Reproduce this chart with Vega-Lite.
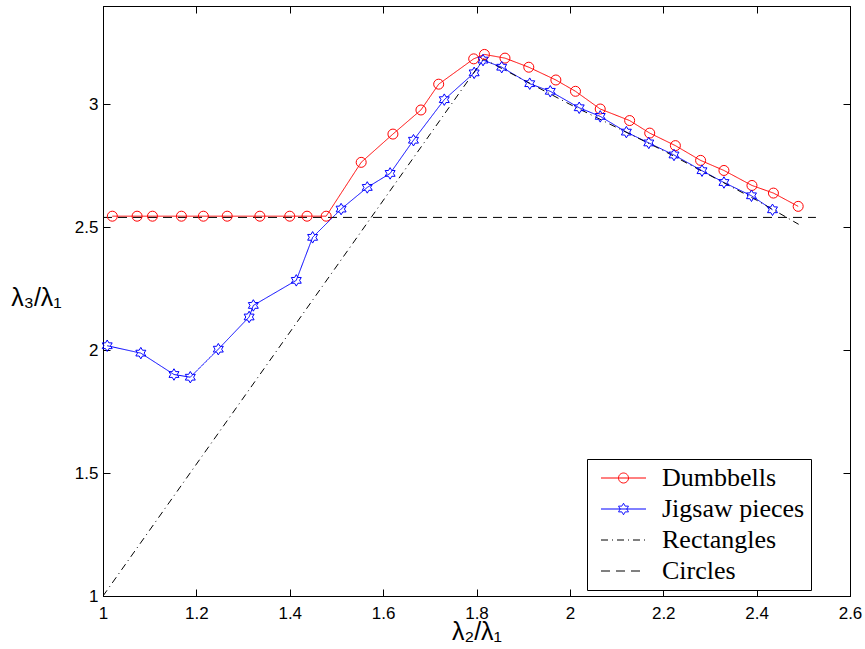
{
  "$schema": "https://vega.github.io/schema/vega-lite/v6.json",
  "autosize": "none",
  "width": 747,
  "height": 590,
  "padding": {"left": 103, "top": 6, "right": 15, "bottom": 53},
  "background": "white",
  "config": {
    "view": {"stroke": "black", "strokeWidth": 1},
    "axis": {
      "grid": false, "domainColor": "black", "tickColor": "black", "labelColor": "black",
      "labelFont": "Liberation Sans", "labelFontSize": 17, "titleFont": "Liberation Sans",
      "titleFontSize": 25, "titleFontWeight": "normal", "titleColor": "black",
      "tickSize": -7, "labelFlush": false, "labelOverlap": false, "labelBound": false
    }
  },
  "datasets": {
    "d": [
      {"series": "Dumbbells", "x": 1.02, "y": 2.545},
      {"series": "Dumbbells", "x": 1.073, "y": 2.545},
      {"series": "Dumbbells", "x": 1.106, "y": 2.545},
      {"series": "Dumbbells", "x": 1.168, "y": 2.545},
      {"series": "Dumbbells", "x": 1.215, "y": 2.545},
      {"series": "Dumbbells", "x": 1.266, "y": 2.545},
      {"series": "Dumbbells", "x": 1.336, "y": 2.545},
      {"series": "Dumbbells", "x": 1.4, "y": 2.545},
      {"series": "Dumbbells", "x": 1.437, "y": 2.545},
      {"series": "Dumbbells", "x": 1.478, "y": 2.545},
      {"series": "Dumbbells", "x": 1.553, "y": 2.764},
      {"series": "Dumbbells", "x": 1.621, "y": 2.879},
      {"series": "Dumbbells", "x": 1.681, "y": 2.977},
      {"series": "Dumbbells", "x": 1.719, "y": 3.082},
      {"series": "Dumbbells", "x": 1.794, "y": 3.185},
      {"series": "Dumbbells", "x": 1.817, "y": 3.203},
      {"series": "Dumbbells", "x": 1.861, "y": 3.188},
      {"series": "Dumbbells", "x": 1.912, "y": 3.151},
      {"series": "Dumbbells", "x": 1.97, "y": 3.099},
      {"series": "Dumbbells", "x": 2.012, "y": 3.053},
      {"series": "Dumbbells", "x": 2.065, "y": 2.981},
      {"series": "Dumbbells", "x": 2.128, "y": 2.934},
      {"series": "Dumbbells", "x": 2.171, "y": 2.883},
      {"series": "Dumbbells", "x": 2.226, "y": 2.832},
      {"series": "Dumbbells", "x": 2.28, "y": 2.772},
      {"series": "Dumbbells", "x": 2.33, "y": 2.731},
      {"series": "Dumbbells", "x": 2.39, "y": 2.67},
      {"series": "Dumbbells", "x": 2.436, "y": 2.639},
      {"series": "Dumbbells", "x": 2.489, "y": 2.585},
      {"series": "Jigsaw pieces", "x": 1.009, "y": 2.018},
      {"series": "Jigsaw pieces", "x": 1.081, "y": 1.988},
      {"series": "Jigsaw pieces", "x": 1.152, "y": 1.901},
      {"series": "Jigsaw pieces", "x": 1.187, "y": 1.89},
      {"series": "Jigsaw pieces", "x": 1.247, "y": 2.004},
      {"series": "Jigsaw pieces", "x": 1.313, "y": 2.135},
      {"series": "Jigsaw pieces", "x": 1.322, "y": 2.182},
      {"series": "Jigsaw pieces", "x": 1.414, "y": 2.284},
      {"series": "Jigsaw pieces", "x": 1.449, "y": 2.459},
      {"series": "Jigsaw pieces", "x": 1.51, "y": 2.574},
      {"series": "Jigsaw pieces", "x": 1.566, "y": 2.662},
      {"series": "Jigsaw pieces", "x": 1.615, "y": 2.719},
      {"series": "Jigsaw pieces", "x": 1.665, "y": 2.854},
      {"series": "Jigsaw pieces", "x": 1.731, "y": 3.019},
      {"series": "Jigsaw pieces", "x": 1.795, "y": 3.128},
      {"series": "Jigsaw pieces", "x": 1.814, "y": 3.18},
      {"series": "Jigsaw pieces", "x": 1.854, "y": 3.151},
      {"series": "Jigsaw pieces", "x": 1.914, "y": 3.084},
      {"series": "Jigsaw pieces", "x": 1.958, "y": 3.053},
      {"series": "Jigsaw pieces", "x": 2.02, "y": 2.986},
      {"series": "Jigsaw pieces", "x": 2.065, "y": 2.951},
      {"series": "Jigsaw pieces", "x": 2.121, "y": 2.887},
      {"series": "Jigsaw pieces", "x": 2.169, "y": 2.843},
      {"series": "Jigsaw pieces", "x": 2.223, "y": 2.794},
      {"series": "Jigsaw pieces", "x": 2.283, "y": 2.73},
      {"series": "Jigsaw pieces", "x": 2.33, "y": 2.682},
      {"series": "Jigsaw pieces", "x": 2.389, "y": 2.628},
      {"series": "Jigsaw pieces", "x": 2.434, "y": 2.571},
      {"series": "Rectangles", "x": 1.0, "y": 1.0},
      {"series": "Rectangles", "x": 1.815, "y": 3.185},
      {"series": "Rectangles", "x": 2.0, "y": 3.0},
      {"series": "Rectangles", "x": 2.2, "y": 2.812},
      {"series": "Rectangles", "x": 2.4, "y": 2.61},
      {"series": "Rectangles", "x": 2.49, "y": 2.512},
      {"series": "Circles", "x": 1.0, "y": 2.54},
      {"series": "Circles", "x": 2.527, "y": 2.54}
    ]
  },
  "data": {"name": "d"},
  "resolve": {"axis": {"x": "independent", "y": "independent"}},
  "layer": [
    {
      "mark": {"type": "line", "strokeWidth": 1, "clip": true},
      "encoding": {
        "x": {
          "field": "x", "type": "quantitative",
          "scale": {"domain": [1, 2.6], "nice": false, "zero": false},
          "axis": {"orient": "bottom", "values": [1, 1.2, 1.4, 1.6, 1.8, 2, 2.2, 2.4, 2.6], "format": "~g", "labelPadding": 16, "title": "λ₂/λ₁", "titleY": 43, "titleBaseline": "alphabetic"}
        },
        "y": {
          "field": "y", "type": "quantitative",
          "scale": {"domain": [1, 3.4], "nice": false, "zero": false},
          "axis": {"orient": "left", "values": [1, 1.5, 2, 2.5, 3], "format": "~g", "labelPadding": 12, "title": "λ₃/λ₁", "titleAngle": 0, "titleAlign": "center", "titleBaseline": "middle", "titleX": -67, "titleY": 291}
        },
        "color": {
          "field": "series", "type": "nominal",
          "scale": {"domain": ["Dumbbells", "Jigsaw pieces", "Rectangles", "Circles"], "range": ["#ff0000", "#0000ff", "#000000", "#000000"]},
          "legend": {
            "title": null, "orient": "none", "legendX": 484, "legendY": 453,
            "strokeColor": "black", "fillColor": "white", "padding": 6, "cornerRadius": 0,
            "labelFont": "Liberation Serif", "labelFontSize": 26, "labelColor": "black",
            "symbolSize": 100, "symbolStrokeWidth": 1, "labelOffset": 43, "rowPadding": 5,
            "encode": {
              "symbols": {
                "update": {
                  "fill": {"value": "transparent"},
                  "shape": {"signal": "datum.value === 'Dumbbells' ? 'M-1,0L8,0M4.5,0A1,1 0 1,1 2.5,0A1,1 0 1,1 4.5,0' : (datum.value === 'Jigsaw pieces' ? 'M-1,0L8,0M3.5,-1.15L3.832,-0.575L4.496,-0.575L4.164,0L4.496,0.575L3.832,0.575L3.5,1.15L3.168,0.575L2.504,0.575L2.836,0L2.504,-0.575L3.168,-0.575Z' : 'M-1,0L8,0')"}
                }
              }
            }
          }
        },
        "strokeDash": {
          "field": "series", "type": "nominal",
          "scale": {"domain": ["Dumbbells", "Jigsaw pieces", "Rectangles", "Circles"], "range": [[1, 0], [1, 0], [7, 4, 1, 4], [9, 6]]}
        }
      }
    },
    {
      "transform": [{"filter": "datum.series === 'Dumbbells' || datum.series === 'Jigsaw pieces'"}],
      "mark": {"type": "point", "filled": false, "strokeWidth": 1, "opacity": 1, "size": 100},
      "encoding": {
        "x": {"field": "x", "type": "quantitative", "axis": {"orient": "top", "values": [1, 1.2, 1.4, 1.6, 1.8, 2, 2.2, 2.4, 2.6], "labels": false, "title": null}},
        "y": {"field": "y", "type": "quantitative", "axis": {"orient": "right", "values": [1, 1.5, 2, 2.5, 3], "labels": false, "title": null}},
        "color": {"field": "series", "type": "nominal"},
        "shape": {
          "field": "series", "type": "nominal",
          "scale": {"domain": ["Dumbbells", "Jigsaw pieces"], "range": ["circle", "M0,-1.15L0.332,-0.575L0.996,-0.575L0.664,0L0.996,0.575L0.332,0.575L0,1.15L-0.332,0.575L-0.996,0.575L-0.664,0L-0.996,-0.575L-0.332,-0.575Z"]},
          "legend": null
        }
      }
    }
  ]
}
